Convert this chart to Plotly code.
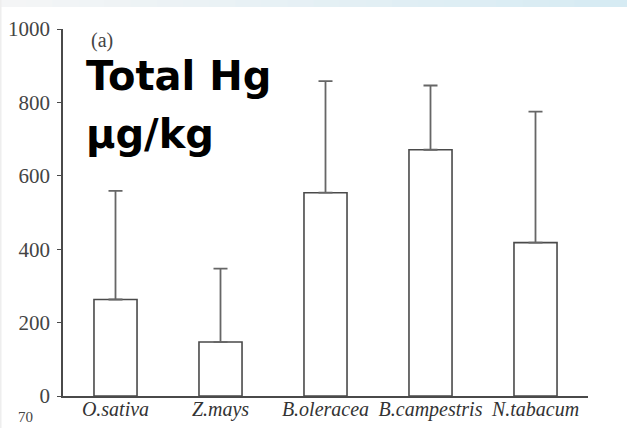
import plotly.graph_objects as go

species = ["O.sativa", "Z.mays", "B.oleracea", "B.campestris", "N.tabacum"]
mean_hg = [263, 147, 554, 671, 418]
upper_err = [296, 200, 304, 175, 357]
y_ticks = [0, 200, 400, 600, 800, 1000]

W, H = 627, 428
L, R, T, B = 63, 39, 29, 32
ph = H - T - B

fig = go.Figure()
fig.add_trace(go.Bar(
    x=list(range(len(species))), y=mean_hg,
    width=0.41,
    marker=dict(color="white", line=dict(color="#4a4a4a", width=1.6)),
    error_y=dict(type="data", symmetric=False, array=upper_err,
                 arrayminus=[0] * len(species),
                 color="#666666", thickness=1.8, width=7),
    showlegend=False,
))

shapes = []
# top gradient band
n = 24
c0 = (244, 245, 246)
c1 = (214, 235, 243)
for i in range(n):
    f = i / (n - 1)
    col = "rgb(%d,%d,%d)" % tuple(round(c0[k] + (c1[k] - c0[k]) * f) for k in range(3))
    shapes.append(dict(type="rect", xref="paper", yref="paper",
                       x0=-L / 525 + i * (W / 525) / n,
                       x1=-L / 525 + (i + 1) * (W / 525) / n + 0.002,
                       y0=1 + (T - 7) / ph, y1=1 + (T + 2) / ph,
                       line=dict(width=0), fillcolor=col, layer="below"))
shapes.append(dict(type="rect", xref="paper", yref="paper",
                   x0=-L / 525, x1=-L / 525 + 1.5 / 525, y0=-B / ph, y1=1 + T / ph,
                   line=dict(width=0), fillcolor="#eeeeee", layer="below"))

annotations = [
    dict(text="(a)", xref="paper", yref="paper", x=(89 - L) / 525, y=1 - (40 - T) / ph,
         xanchor="left", yanchor="middle", showarrow=False,
         font=dict(family="Liberation Serif", size=20, color="#444444")),
    dict(text="<b>Total Hg</b>", xref="paper", yref="paper", x=(84 - L) / 525,
         y=1 - (76 - T) / ph, xanchor="left", yanchor="middle", showarrow=False,
         font=dict(family="DejaVu Sans", size=40, color="black")),
    dict(text="<b>µg/kg</b>", xref="paper", yref="paper", x=(84 - L) / 525,
         y=1 - (134 - T) / ph, xanchor="left", yanchor="middle", showarrow=False,
         font=dict(family="DejaVu Sans", size=40, color="black")),
    dict(text="70", xref="paper", yref="paper", x=(17 - L) / 525,
         y=-(426 - T - ph) / ph, xanchor="left", yanchor="bottom", showarrow=False,
         borderpad=0,
         font=dict(family="Liberation Serif", size=15, color="#444444")),
]

fig.update_layout(
    width=W, height=H,
    margin=dict(l=L, r=R, t=T, b=B, pad=0, autoexpand=False),
    paper_bgcolor="white", plot_bgcolor="white",
    bargap=0.59,
    shapes=shapes, annotations=annotations,
    font=dict(family="Liberation Serif", color="#444444"),
)
fig.update_xaxes(
    range=[-0.5, 4.5], tickmode="array", tickvals=list(range(len(species))),
    ticktext=["<i>%s</i>" % s for s in species],
    showline=True, linecolor="#4a4a4a", linewidth=1.6,
    ticks="", showgrid=False, zeroline=False, tickangle=0, automargin=False,
    tickfont=dict(family="Liberation Serif", size=20, color="#333333"),
    ticklabelstandoff=-6,
)
fig.update_yaxes(
    range=[0, 1000], tickmode="array", tickvals=y_ticks,
    showline=True, linecolor="#4a4a4a", linewidth=1.6,
    ticks="outside", ticklen=4, tickcolor="#4a4a4a", tickwidth=1.4,
    showgrid=False, zeroline=False, automargin=False,
    tickfont=dict(family="Liberation Serif", size=21, color="#444444"),
    ticklabelstandoff=3,
)

fig.write_html("out.html")
